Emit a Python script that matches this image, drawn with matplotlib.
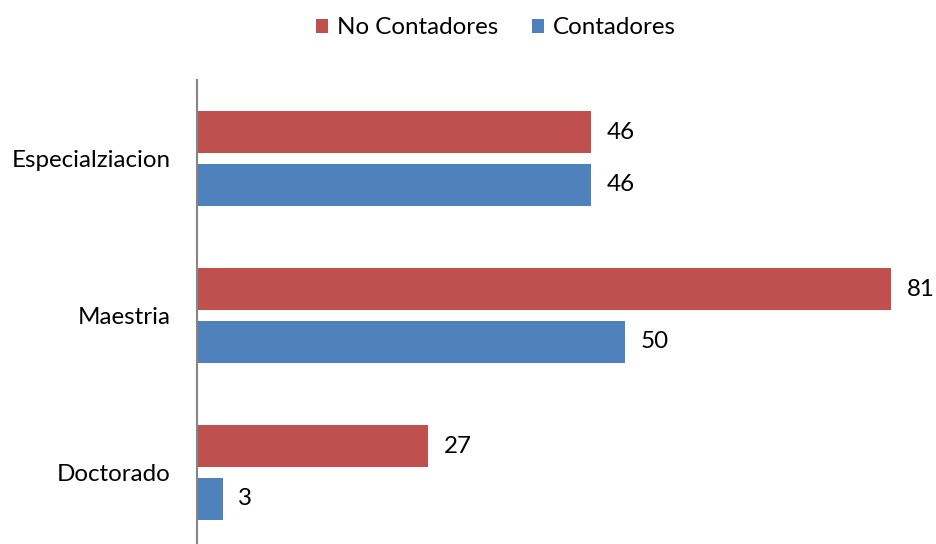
import numpy as np
import matplotlib.pyplot as plt

# datos
categorias = ["Especialziacion", "Maestria", "Doctorado"]
no_contadores = [46, 81, 27]
contadores = [46, 50, 3]

rojo = "#C0504D"
azul = "#4F81BD"
fuente = "Lato"
tam = 17.4

fig = plt.figure(figsize=(9.37, 5.44), dpi=100)
ax = fig.add_axes([197/937, -7/544, 740/937, 471/544])

y = np.arange(len(categorias))[::-1]
alto = 0.267
b1 = ax.barh(y + 0.167, no_contadores, height=alto, color=rojo, label="No Contadores")
b2 = ax.barh(y - 0.167, contadores, height=alto, color=azul, label="Contadores")

for barras in (b1, b2):
    for b in barras:
        ax.annotate(str(int(b.get_width())), (b.get_width(), b.get_y() + b.get_height()/2),
                    xytext=(11, 0), textcoords="offset points", va="center", ha="left",
                    fontsize=tam, family=fuente)

ax.set_xlim(0, 740/8.57)
ax.set_ylim(-0.5, 2.5)
ax.set_yticks(y)
ax.set_yticklabels(categorias, fontsize=tam, family=fuente)
ax.tick_params(axis="y", length=0, pad=19)
ax.set_xticks([])
for s in ["top", "right", "bottom"]:
    ax.spines[s].set_visible(False)
ax.spines["left"].set_color("#868686")
ax.spines["left"].set_linewidth(1.5)

fig.legend(handles=[b1, b2], loc="center", bbox_to_anchor=(496/937, 1 - 28/544),
           ncol=2, frameon=False, prop={"family": fuente, "size": tam},
           handlelength=0.5, handleheight=0.5, handletextpad=0.35, columnspacing=1.4)

fig.savefig("out.png", dpi=100)
